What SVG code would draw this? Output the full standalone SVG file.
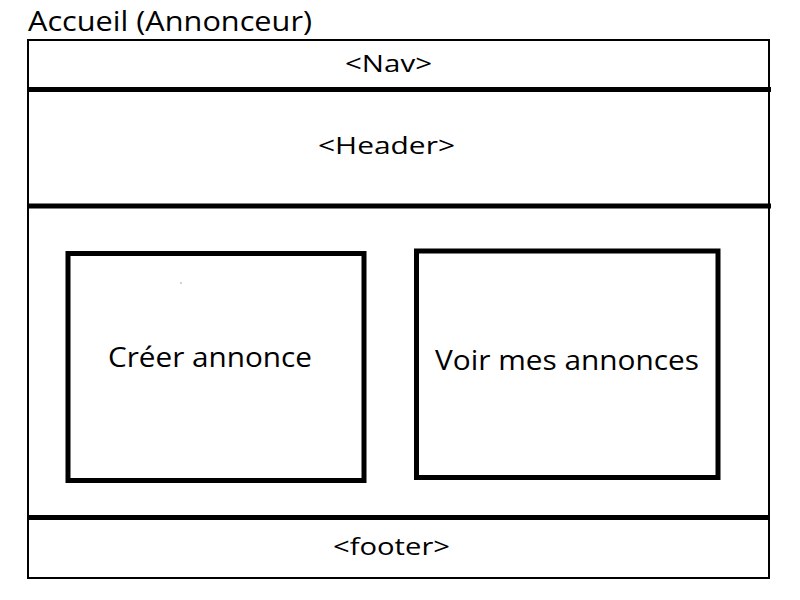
<svg xmlns="http://www.w3.org/2000/svg" width="800" height="600" viewBox="0 0 800 600">
<style>
  text { font-family: "Open Sans", "Noto Sans", "Liberation Sans", sans-serif; fill: #000; }
  .frame { fill: #fff; stroke: #000; stroke-width: 2; }
  .sep { stroke: #000; stroke-width: 5; }
  .box { fill: #fff; stroke: #000; stroke-width: 5; }
</style>
<rect width="800" height="600" fill="#fff"/>
<text id="title" x="28" y="31" font-size="28" textLength="284" lengthAdjust="spacingAndGlyphs">Accueil (Annonceur)</text>
<g id="page">
  <rect class="frame" x="28" y="40" width="741" height="538"/>
</g>
<g id="connectors">
  <line class="sep" x1="28" y1="89.5" x2="771" y2="89.5"/>
  <line class="sep" x1="28" y1="206" x2="771" y2="206"/>
  <line class="sep" x1="28" y1="517.5" x2="770" y2="517.5"/>
</g>
<g id="nav">
  <text x="345" y="72" font-size="23" textLength="87" lengthAdjust="spacingAndGlyphs">&lt;Nav&gt;</text>
</g>
<g id="header">
  <text x="318" y="153.5" font-size="23" textLength="137" lengthAdjust="spacingAndGlyphs">&lt;Header&gt;</text>
</g>
<g id="creer">
  <rect class="box" x="68" y="253.5" width="296" height="227"/>
  <rect x="180.5" y="282.5" width="1" height="1" fill="#555"/>
  <text x="108" y="367" font-size="27" textLength="204" lengthAdjust="spacingAndGlyphs">Créer annonce</text>
</g>
<g id="voir">
  <rect class="box" x="416.5" y="251" width="301.5" height="226.5"/>
  <text x="435" y="370" font-size="28" textLength="264" lengthAdjust="spacingAndGlyphs">Voir mes annonces</text>
</g>
<g id="footer">
  <text x="333" y="555" font-size="23" textLength="117" lengthAdjust="spacingAndGlyphs">&lt;footer&gt;</text>
</g>
</svg>
